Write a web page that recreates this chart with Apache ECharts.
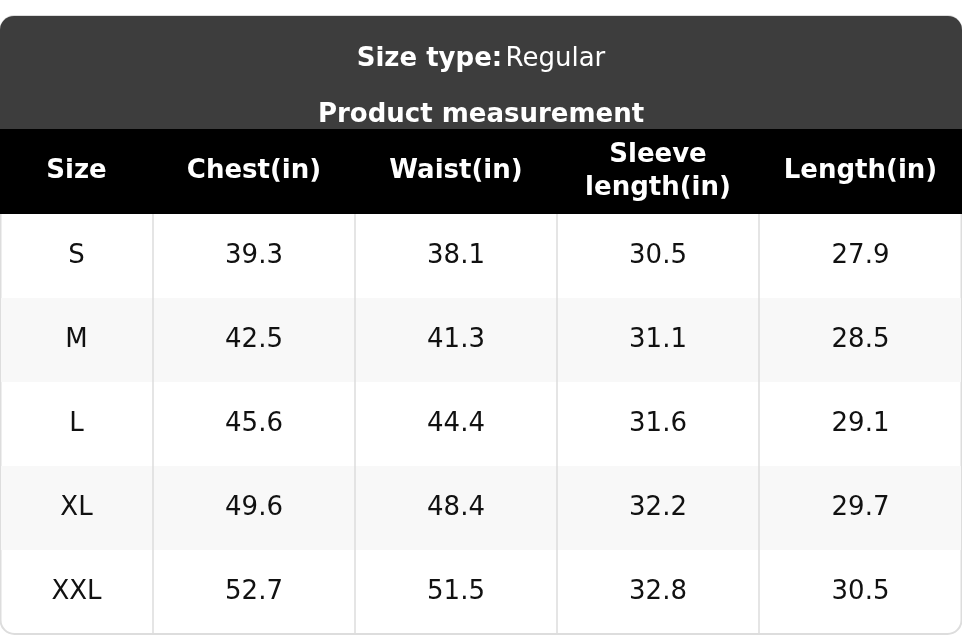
<!DOCTYPE html><html><head><meta charset="utf-8"><script src="https://cdn.jsdelivr.net/npm/echarts@6/dist/echarts.min.js"></script>
<style>html,body{margin:0;background:#fff}#c{width:962px;height:636px}</style></head><body><div id="c"></div><script>
const sizeType='Regular';
const subtitle='Product measurement';
const headers=['Size','Chest(in)','Waist(in)','Sleeve\nlength(in)','Length(in)'];
const sizes=['S','M','L','XL','XXL'];
const chest=[39.3,42.5,45.6,49.6,52.7];
const waist=[38.1,41.3,44.4,48.4,51.5];
const sleeve=[30.5,31.1,31.6,32.2,32.8];
const lengthIn=[27.9,28.5,29.1,29.7,30.5];
const colEdges=[0,153,355,557,759,962];
const rowH=84, titleH=113, headH=85;
const items=[];
items.push({value:[0,0,'','frame']});
items.push({value:[0,0,'','title']});
headers.forEach((h,i)=>items.push({value:[i,0,h,'head']}));
const cols=[sizes,chest,waist,sleeve,lengthIn];
sizes.forEach((s,r)=>cols.forEach((c,i)=>items.push({value:[i,r,i===0?c[r]:c[r].toFixed(1),'cell']})));
const F='DejaVu Sans';
function render(params,api){
  const col=api.value(0),row=api.value(1),txt=api.value(2),kind=api.value(3);
  const P=(x,y)=>api.coord([x,y]);
  const total=titleH+headH+rowH*sizes.length;
  if(kind==='frame'){
    const a=P(0,0),b=P(962,total);
    const ch=[{type:'rect',shape:{x:a[0]+0.5,y:a[1],width:b[0]-a[0]-1,height:b[1]-a[1],r:14},style:{fill:'#fff',stroke:'#dddddd',lineWidth:2}}];
    const t=P(0,titleH);
    ch.push({type:'rect',shape:{x:a[0],y:a[1],width:b[0]-a[0],height:t[1]-a[1],r:[14,14,0,0]},style:{fill:'#3d3d3d'}});
    for(let r=0;r<sizes.length;r++){if(r%2===1){const p=P(0,titleH+headH+r*rowH),q=P(962,titleH+headH+(r+1)*rowH);ch.push({type:'rect',shape:{x:p[0]+1,y:p[1],width:q[0]-p[0]-2,height:q[1]-p[1]},style:{fill:'#f8f8f8'}});}}
    for(let i=1;i<colEdges.length-1;i++){const p=P(colEdges[i],titleH),q=P(colEdges[i],total);ch.push({type:'line',shape:{x1:p[0],y1:p[1],x2:q[0],y2:q[1]},style:{stroke:'#dddddd',lineWidth:1.5}});}
    return {type:'group',children:ch};
  }
  if(kind==='title'){
    const c1=P(481,43),c2=P(481,99);
    return {type:'group',children:[
      {type:'text',x:c1[0],y:c1[1],style:{text:'{b|Size type:} {n|'+sizeType+'}',align:'center',verticalAlign:'middle',rich:{b:{fontFamily:F,fontWeight:'bold',fontSize:26,fill:'#fff'},n:{fontFamily:F,fontSize:26,fill:'#fff'}}}},
      {type:'text',x:c2[0],y:c2[1],style:{text:subtitle,align:'center',verticalAlign:'middle',fontFamily:F,fontWeight:'bold',fontSize:26,fill:'#fff'}}]};
  }
  if(kind==='head'){
    const a=P(colEdges[col],titleH),b=P(colEdges[col+1],titleH+headH);
    return {type:'group',children:[
      {type:'rect',shape:{x:a[0],y:a[1],width:b[0]-a[0],height:b[1]-a[1]},style:{fill:'#000'}},
      {type:'text',x:(a[0]+b[0])/2,y:(a[1]+b[1])/2,style:{text:txt,align:'center',verticalAlign:'middle',fontFamily:F,fontWeight:'bold',fontSize:26,lineHeight:33,fill:'#fff'}}]};
  }
  const y0=titleH+headH+row*rowH;
  const a=P(colEdges[col],y0),b=P(colEdges[col+1],y0+rowH);
  return {type:'text',x:(a[0]+b[0])/2,y:(a[1]+b[1])/2,style:{text:txt,align:'center',verticalAlign:'middle',fontFamily:F,fontSize:26,fill:'#111'}};
}
const chart=echarts.init(document.getElementById('c'));
chart.setOption({animation:false,grid:{left:0,right:0,top:16,bottom:2},
xAxis:{type:'value',min:0,max:962,show:false},
yAxis:{type:'value',min:0,max:titleH+headH+rowH*sizes.length,inverse:true,show:false},
series:[{type:'custom',renderItem:render,data:items,clip:false}]});
</script></body></html>
